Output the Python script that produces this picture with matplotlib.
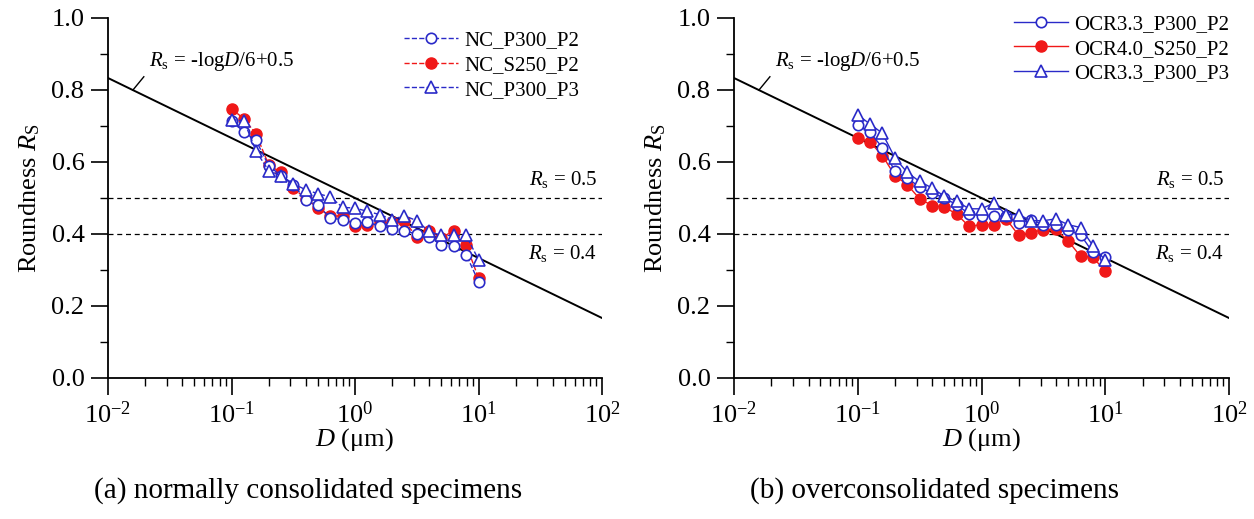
import numpy as np
import matplotlib.pyplot as plt
from matplotlib.ticker import LogLocator, MultipleLocator, NullFormatter

plt.rcParams['font.family'] = 'Liberation Serif'
plt.rcParams['mathtext.fontset'] = 'custom'
plt.rcParams['mathtext.rm'] = 'Liberation Serif'
plt.rcParams['mathtext.it'] = 'Liberation Serif:italic'

# particle size D (um), same for every series
D = [0.1, 0.126, 0.158, 0.2, 0.251, 0.316, 0.398, 0.501, 0.631, 0.794, 1.0,
     1.26, 1.58, 2.0, 2.51, 3.16, 3.98, 5.01, 6.31, 7.94, 10.0]

# (a) normally consolidated
nc_p300_p2 = [0.715, 0.683, 0.66, 0.59, 0.562, 0.537, 0.495, 0.48, 0.444, 0.44, 0.43,
              0.432, 0.423, 0.414, 0.409, 0.40, 0.391, 0.370, 0.366, 0.343, 0.268]
nc_s250_p2 = [0.748, 0.720, 0.678, 0.592, 0.571, 0.528, 0.498, 0.473, 0.449, 0.451, 0.421,
              0.425, 0.43, 0.432, 0.437, 0.391, 0.407, 0.39, 0.409, 0.37, 0.278]
nc_p300_p3 = [0.717, 0.715, 0.63, 0.576, 0.562, 0.540, 0.523, 0.512, 0.503, 0.474, 0.472,
              0.463, 0.454, 0.44, 0.451, 0.437, 0.407, 0.396, 0.396, 0.396, 0.329]

# (b) overconsolidated
ocr33_p300_p2 = [0.704, 0.682, 0.64, 0.574, 0.556, 0.53, 0.514, 0.50, 0.481, 0.456, 0.451,
                 0.449, 0.45, 0.43, 0.44, 0.426, 0.426, 0.412, 0.398, 0.349, 0.335]
ocr40_s250_p2 = [0.668, 0.655, 0.618, 0.562, 0.537, 0.498, 0.479, 0.475, 0.455, 0.421, 0.426,
                 0.426, 0.442, 0.396, 0.404, 0.412, 0.413, 0.381, 0.338, 0.336, 0.296]
ocr33_p300_p3 = [0.731, 0.705, 0.68, 0.611, 0.571, 0.546, 0.528, 0.505, 0.491, 0.470, 0.470,
                 0.486, 0.454, 0.454, 0.437, 0.437, 0.442, 0.426, 0.418, 0.368, 0.327]

names_a = ['NC_P300_P2', 'NC_S250_P2', 'NC_P300_P3']
names_b = ['OCR3.3_P300_P2', 'OCR4.0_S250_P2', 'OCR3.3_P300_P3']
captions = ['(a) normally consolidated specimens', '(b) overconsolidated specimens']

BLUE = '#2a2ac8'
RED = '#f01818'


def fit_line(d):
    return -np.log10(d) / 6 + 0.5


def draw_panel(ax, series, names, ls, leg_anchor):
    s1, s2, s3 = series
    l1, = ax.plot(D, s1, ls=ls, color=BLUE, lw=1, marker='o', ms=7.5, mfc='white',
                  mec=BLUE, mew=1.2, label=names[0], zorder=4)
    l2, = ax.plot(D, s2, ls=ls, color=RED, lw=1, marker='o', ms=8, mfc=RED,
                  mec=RED, label=names[1], zorder=3)
    l3, = ax.plot(D, s3, ls=ls, color=BLUE, lw=1, marker='^', ms=8.5, mfc='white',
                  mec=BLUE, mew=1.2, label=names[2], zorder=5)

    dd = np.array([1e-2, 1e2])
    ax.plot(dd, fit_line(dd), color='black', lw=1.4, zorder=2)
    ax.axhline(0.5, color='black', ls=(0, (4, 3)), lw=0.9, zorder=1)
    ax.axhline(0.4, color='black', ls=(0, (4, 3)), lw=0.9, zorder=1)

    # equation label with short leader
    d0, d1 = 0.0159, 0.0195
    ax.plot([d0, d1], [fit_line(d0), fit_line(d0) + 0.037], color='black', lw=1)
    ax.text(0.0215, 0.878, r'$R_{\rm s}$ = -log$D$/6+0.5', fontsize=15, va='center')
    ax.text(92, 0.55, r'$R_{\rm s}$ = 0.5', fontsize=15, ha='right', va='center')
    ax.text(92, 0.345, r'$R_{\rm s}$ = 0.4', fontsize=15, ha='right', va='center')

    ax.set_xscale('log')
    ax.set_xlim(1e-2, 1e2)
    ax.set_ylim(0, 1.0)
    ax.xaxis.set_major_locator(LogLocator(base=10, numticks=10))
    ax.xaxis.set_minor_locator(LogLocator(base=10, subs=np.arange(2, 10), numticks=10))
    ax.xaxis.set_minor_formatter(NullFormatter())
    ax.yaxis.set_major_locator(MultipleLocator(0.2))
    ax.yaxis.set_minor_locator(MultipleLocator(0.1))
    ax.yaxis.set_major_formatter(plt.FuncFormatter(lambda v, p: '%.1f' % v))

    for s in ['top', 'right']:
        ax.spines[s].set_visible(False)
    for s in ['left', 'bottom']:
        ax.spines[s].set_linewidth(1.3)
    ax.tick_params(which='major', direction='out', length=12, width=1.2, labelsize=19, pad=5)
    ax.tick_params(which='minor', direction='out', length=6, width=1.0)

    ax.set_xlabel(r'$D$ ($\mathrm{\mu}$m)', fontsize=19)
    ax.set_ylabel(r'Roundness $R_{\rm S}$', fontsize=19)
    ax.xaxis.set_label_coords(0.5, -0.135)
    ax.yaxis.set_label_coords(-0.134, 0.5)

    ax.legend(handles=[l1, l2, l3], loc='upper right', bbox_to_anchor=leg_anchor,
              frameon=False, fontsize=15, handlelength=2.6, handletextpad=0.3,
              labelspacing=0.25, borderaxespad=0.2)


fig = plt.figure(figsize=(12.54, 5.19), dpi=100)
ax1 = fig.add_axes([108 / 1254, 1 - 378 / 519, 494 / 1254, 360 / 519])
ax2 = fig.add_axes([734 / 1254, 1 - 378 / 519, 495 / 1254, 360 / 519])

draw_panel(ax1, [nc_p300_p2, nc_s250_p2, nc_p300_p3], names_a, '--', (0.98, 1.0))
draw_panel(ax2, [ocr33_p300_p2, ocr40_s250_p2, ocr33_p300_p3], names_b, '-', (1.026, 1.045))

fig.text(308 / 1254, 1 - 491 / 519, captions[0], fontsize=21, ha='center', va='center')
fig.text(935 / 1254, 1 - 491 / 519, captions[1], fontsize=21, ha='center', va='center')

plt.savefig('out.png', dpi=100)
